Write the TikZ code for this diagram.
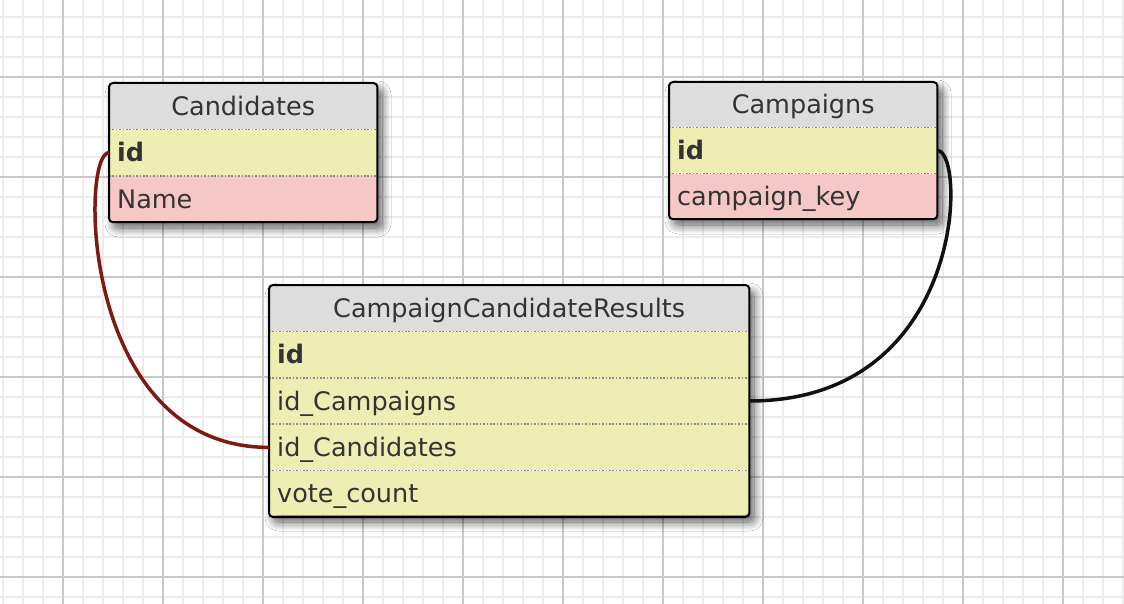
\documentclass[tikz,border=0pt]{standalone}
\usepackage{fontspec}
\setmainfont{DejaVu Sans}
\usetikzlibrary{shadows.blur}
\definecolor{hdr}{HTML}{DDDDDD}
\definecolor{yel}{HTML}{EEEEB4}
\definecolor{pinkrow}{HTML}{F6C7C7}
\definecolor{ink}{HTML}{333333}
\definecolor{sepc}{HTML}{8A8A8A}
\definecolor{gridminor}{HTML}{ECECEC}
\definecolor{gridmajor}{HTML}{C8C8C8}
\definecolor{fkred}{RGB}{125,26,18}
\definecolor{fkblk}{HTML}{111111}
\newcommand\tabfont{\fontsize{25.5}{30}\selectfont}
\begin{document}
\begin{tikzpicture}[x=1pt,y=-1pt,
 cell/.style={anchor=north west, draw=none, minimum height=46pt, inner xsep=8pt, inner ysep=0pt, text height=24pt, text depth=6pt, font=\tabfont, text=ink},
 narrow/.style={minimum width=268pt, text width=252pt},
 wide/.style={minimum width=480pt, text width=464pt},
 headcell/.style={cell, fill=hdr, align=center},
 keycell/.style={cell, fill=yel, align=left},
 attrcell/.style={cell, fill=pinkrow, align=left},
 sepline/.style={draw=sepc, line width=1.6pt, dash pattern=on 1.6pt off 1.8pt},
 tblframe/.style={draw=black, line width=2pt, rounded corners=4pt},
 tblshadow/.style={fill=white, rounded corners=4pt, blur shadow={shadow xshift=5pt, shadow yshift=-7pt, shadow blur radius=9pt, shadow blur steps=12, shadow opacity=65}},
 minorline/.style={draw=gridminor, line width=1.7pt},
 majorline/.style={draw=gridmajor, line width=1.9pt},
 fklinkred/.style={draw=fkred, line width=3.5pt},
 fklinkblack/.style={draw=fkblk, line width=3.5pt},
]
\useasboundingbox (0,0) rectangle (1124,604);
\fill[white] (0,0) rectangle (1124,604);
% grid
\foreach \x in {3,23,...,1123} \draw[minorline] (\x,0) -- (\x,604);
\foreach \y in {17,37,...,597} \draw[minorline] (0,\y) -- (1124,\y);
\foreach \x in {63,163,...,1063} \draw[majorline] (\x,0) -- (\x,604);
\foreach \y in {77,177,...,577} \draw[majorline] (0,\y) -- (1124,\y);

% ---------- Candidates ----------
\path[tblshadow] (109,83) rectangle (377,221);
\begin{scope}
\clip[rounded corners=4pt] (109,83) rectangle (377,221);
\node[headcell, narrow] (cand-h) at (109,83) {Candidates};
\node[keycell, narrow] (cand-id) at (cand-h.south west) {\textbf{id}};
\node[attrcell, narrow] (cand-name) at (cand-id.south west) {Name};
\end{scope}
\draw[sepline] (cand-h.south west) -- (cand-h.south east);
\draw[sepline] (cand-id.south west) -- (cand-id.south east);
\draw[tblframe] (cand-h.north west) rectangle (cand-name.south east);

% ---------- Campaigns ----------
\path[tblshadow] (669,82) rectangle (937,218);
\begin{scope}
\clip[rounded corners=4pt] (669,82) rectangle (937,218);
\node[headcell, narrow, minimum height=45.3pt] (camp-h) at (669,82) {Campaigns};
\node[keycell, narrow, minimum height=45.3pt] (camp-id) at (camp-h.south west) {\textbf{id}};
\node[attrcell, narrow, minimum height=45.4pt] (camp-key) at (camp-id.south west) {campaign\_key};
\end{scope}
\draw[sepline] (camp-h.south west) -- (camp-h.south east);
\draw[sepline] (camp-id.south west) -- (camp-id.south east);
\draw[tblframe] (camp-h.north west) rectangle (camp-key.south east);

% ---------- CampaignCandidateResults ----------
\path[tblshadow] (269,285) rectangle (749,515);
\begin{scope}
\clip[rounded corners=4pt] (269,285) rectangle (749,515);
\node[headcell, wide] (ccr-h) at (269,285) {CampaignCandidateResults};
\node[keycell, wide] (ccr-id) at (ccr-h.south west) {\textbf{id}};
\node[keycell, wide] (ccr-camp) at (ccr-id.south west) {id\_Campaigns};
\node[keycell, wide] (ccr-cand) at (ccr-camp.south west) {id\_Candidates};
\node[keycell, wide] (ccr-vote) at (ccr-cand.south west) {vote\_count};
\end{scope}
\draw[sepline] (ccr-h.south west) -- (ccr-h.south east);
\draw[sepline] (ccr-id.south west) -- (ccr-id.south east);
\draw[sepline] (ccr-camp.south west) -- (ccr-camp.south east);
\draw[sepline] (ccr-cand.south west) -- (ccr-cand.south east);
\draw[tblframe] (ccr-h.north west) rectangle (ccr-vote.south east);

% ---------- connectors ----------
\draw[fklinkred] (cand-id.west) .. controls +(-29,0) and +(-189,0) .. (ccr-cand.west);
\draw[fklinkblack] (camp-id.east) .. controls +(29,0) and +(217,0) .. (ccr-camp.east);
\end{tikzpicture}
\end{document}
